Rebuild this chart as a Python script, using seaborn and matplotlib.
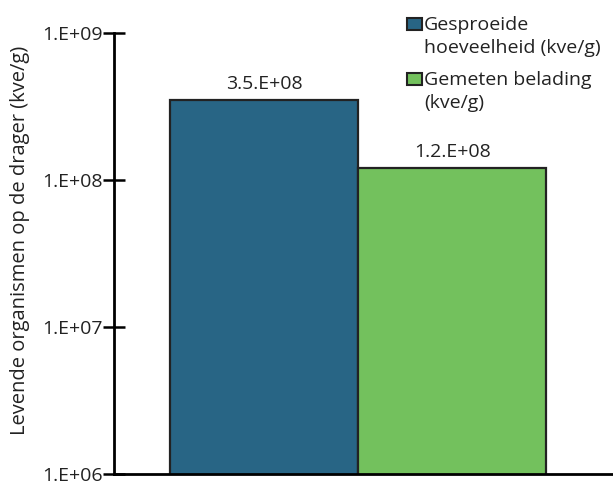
import math
import matplotlib
matplotlib.use("Agg")
import matplotlib.pyplot as plt
import matplotlib.ticker as mticker
from matplotlib.patches import Patch, Rectangle
from matplotlib.legend_handler import HandlerPatch
import pandas as pd
import seaborn as sns

# Data
series = ["Gesproeide\nhoeveelheid (kve/g)", "Gemeten belading\n(kve/g)"]
values = [3.5e8, 1.2e8]
bar_labels = ["3.5.E+08", "1.2.E+08"]
colors = ["#286585", "#73c15d"]
y_ticks = [1e6, 1e7, 1e8, 1e9]

df = pd.DataFrame({"series": series, "value": values})

sns.set_style("white")
plt.rcParams["font.family"] = ["Open Sans", "DejaVu Sans"]

fig = plt.figure(figsize=(6.13, 4.84), dpi=100)
ax = fig.add_axes([0.186, 0.021, 0.814, 0.911])
ax.set_yscale("log")

sns.barplot(data=df, x="series", y="value", hue="series", palette=colors,
            saturation=1, width=1, edgecolor="#222222", linewidth=1.6,
            legend=False, ax=ax)

ax.set_ylim(1e6, 1e9)
ax.set_xlim(-0.80, 1.856)
ax.set_yticks(y_ticks)
ax.yaxis.set_major_formatter(mticker.FuncFormatter(lambda v, p: "1.E+%02d" % round(math.log10(v))))
ax.yaxis.set_minor_locator(mticker.NullLocator())
ax.tick_params(axis="y", left=True, direction="inout", length=16, width=1.8,
               labelsize=14, color="black", labelcolor="#222222", pad=0)
ax.set_xticks([])
ax.set_xlabel("")
ax.set_ylabel("Levende organismen op de drager (kve/g)", fontsize=14.5,
              color="#222222")
ax.yaxis.set_label_coords(-0.188, 0.529)
ax.yaxis.label.set_va("center")

for s in ["top", "right"]:
    ax.spines[s].set_visible(False)
for s in ["left", "bottom"]:
    ax.spines[s].set_linewidth(2)
    ax.spines[s].set_color("black")

for i, (v, lab) in enumerate(zip(values, bar_labels)):
    ax.annotate(lab, (i, v), xytext=(0, 5), textcoords="offset points",
                ha="center", va="bottom", fontsize=14, color="#222222")


# legend square sits next to the first line of a two-line label
def first_line_square(legend, orig_handle, xdescent, ydescent, width, height, fontsize):
    return Rectangle((-xdescent, -ydescent + 9.2), width, height)


handles = [Patch(facecolor=c, edgecolor="#222222", linewidth=1.5) for c in colors]
leg = fig.legend(handles, series, loc="upper left", bbox_to_anchor=(0.641, 0.996),
                 frameon=False, fontsize=14, handlelength=0.8, handleheight=0.6,
                 handletextpad=0.1, labelspacing=0.7, borderpad=0.2,
                 handler_map={Patch: HandlerPatch(patch_func=first_line_square)})
for t in leg.get_texts():
    t.set_linespacing(1.4)
    t.set_color("#222222")

fig.savefig("out.png", dpi=100)
